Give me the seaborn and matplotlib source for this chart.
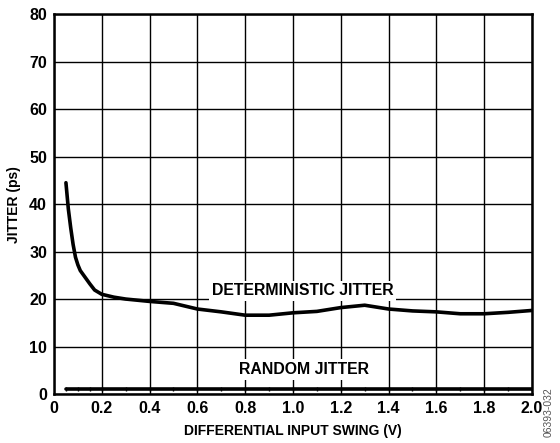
import pandas as pd
import numpy as np
import matplotlib
matplotlib.use('Agg')
import matplotlib.pyplot as plt
import seaborn as sns

# Data
swing = [0.05, 0.06, 0.07, 0.08, 0.09, 0.10, 0.11, 0.13, 0.15, 0.17, 0.2, 0.25, 0.3,
         0.4, 0.5, 0.6, 0.7, 0.8, 0.9, 1.0, 1.1, 1.2, 1.3, 1.4, 1.5, 1.6, 1.7,
         1.8, 1.9, 2.0]
det_jitter = [44.5, 39.0, 35.0, 31.5, 28.8, 27.2, 26.0, 24.6, 23.2, 21.9, 21.0, 20.4, 20.0,
              19.5, 19.1, 17.9, 17.3, 16.6, 16.6, 17.1, 17.4, 18.2, 18.7, 17.9, 17.5,
              17.3, 16.9, 16.9, 17.2, 17.6]
rnd_swing = [0.05, 0.1, 0.15, 0.2, 0.3, 0.4, 0.5, 0.6, 0.7, 0.8, 0.9, 1.0, 1.1, 1.2,
             1.3, 1.4, 1.5, 1.6, 1.7, 1.8, 1.9, 2.0]
rnd_jitter = [1.1] * len(rnd_swing)

x_ticks = [0, 0.2, 0.4, 0.6, 0.8, 1.0, 1.2, 1.4, 1.6, 1.8, 2.0]
x_labels = ['0', '0.2', '0.4', '0.6', '0.8', '1.0', '1.2', '1.4', '1.6', '1.8', '2.0']
y_ticks = [0, 10, 20, 30, 40, 50, 60, 70, 80]

sns.set_style('white')
plt.rcParams['font.family'] = ['Liberation Sans', 'DejaVu Sans']
plt.rcParams['font.weight'] = 'bold'
plt.rcParams['text.color'] = 'black'
plt.rcParams['axes.labelcolor'] = 'black'
plt.rcParams['xtick.color'] = 'black'
plt.rcParams['ytick.color'] = 'black'

fig = plt.figure(figsize=(5.6, 4.43), dpi=100)
ax = fig.add_axes([0.0964, 0.1106, 0.8536, 0.8574])

sns.lineplot(x=swing, y=det_jitter, color='black', linewidth=2.6, ax=ax, zorder=3)
sns.lineplot(x=rnd_swing, y=rnd_jitter, color='black', linewidth=2.6, ax=ax, zorder=3,
             marker='|', markersize=3, markeredgewidth=1.0, markeredgecolor='black')

ax.set_xlim(0, 2.0)
ax.set_ylim(0, 80)
ax.set_xticks(x_ticks)
ax.set_xticklabels(x_labels)
ax.set_yticks(y_ticks)
ax.grid(True, color='black', linewidth=1.0)
ax.set_axisbelow(True)
for s in ax.spines.values():
    s.set_color('black')
    s.set_linewidth(1.8)
ax.tick_params(axis='both', length=0, labelsize=11.5, pad=5, colors='black')
for lab in ax.get_xticklabels() + ax.get_yticklabels():
    lab.set_fontweight('bold')

ax.set_xlabel('DIFFERENTIAL INPUT SWING (V)', fontsize=10, fontweight='bold',
              labelpad=6, color='black')
ax.set_ylabel('JITTER (ps)', fontsize=10, fontweight='bold', labelpad=6, color='black')

box = dict(facecolor='white', edgecolor='none', pad=2)
ax.text(1.04, 21.7, 'DETERMINISTIC JITTER', ha='center', va='center',
        fontsize=11.4, fontweight='bold', color='black', bbox=box, zorder=4)
ax.text(1.045, 5.1, 'RANDOM JITTER', ha='center', va='center',
        fontsize=11.4, fontweight='bold', color='black', bbox=box, zorder=4)

fig.text(0.979, 0.07, '06393-032', rotation=90, ha='center', va='center',
         fontsize=7.5, color='#555555', fontweight='normal')

fig.savefig('out.png', dpi=100)
